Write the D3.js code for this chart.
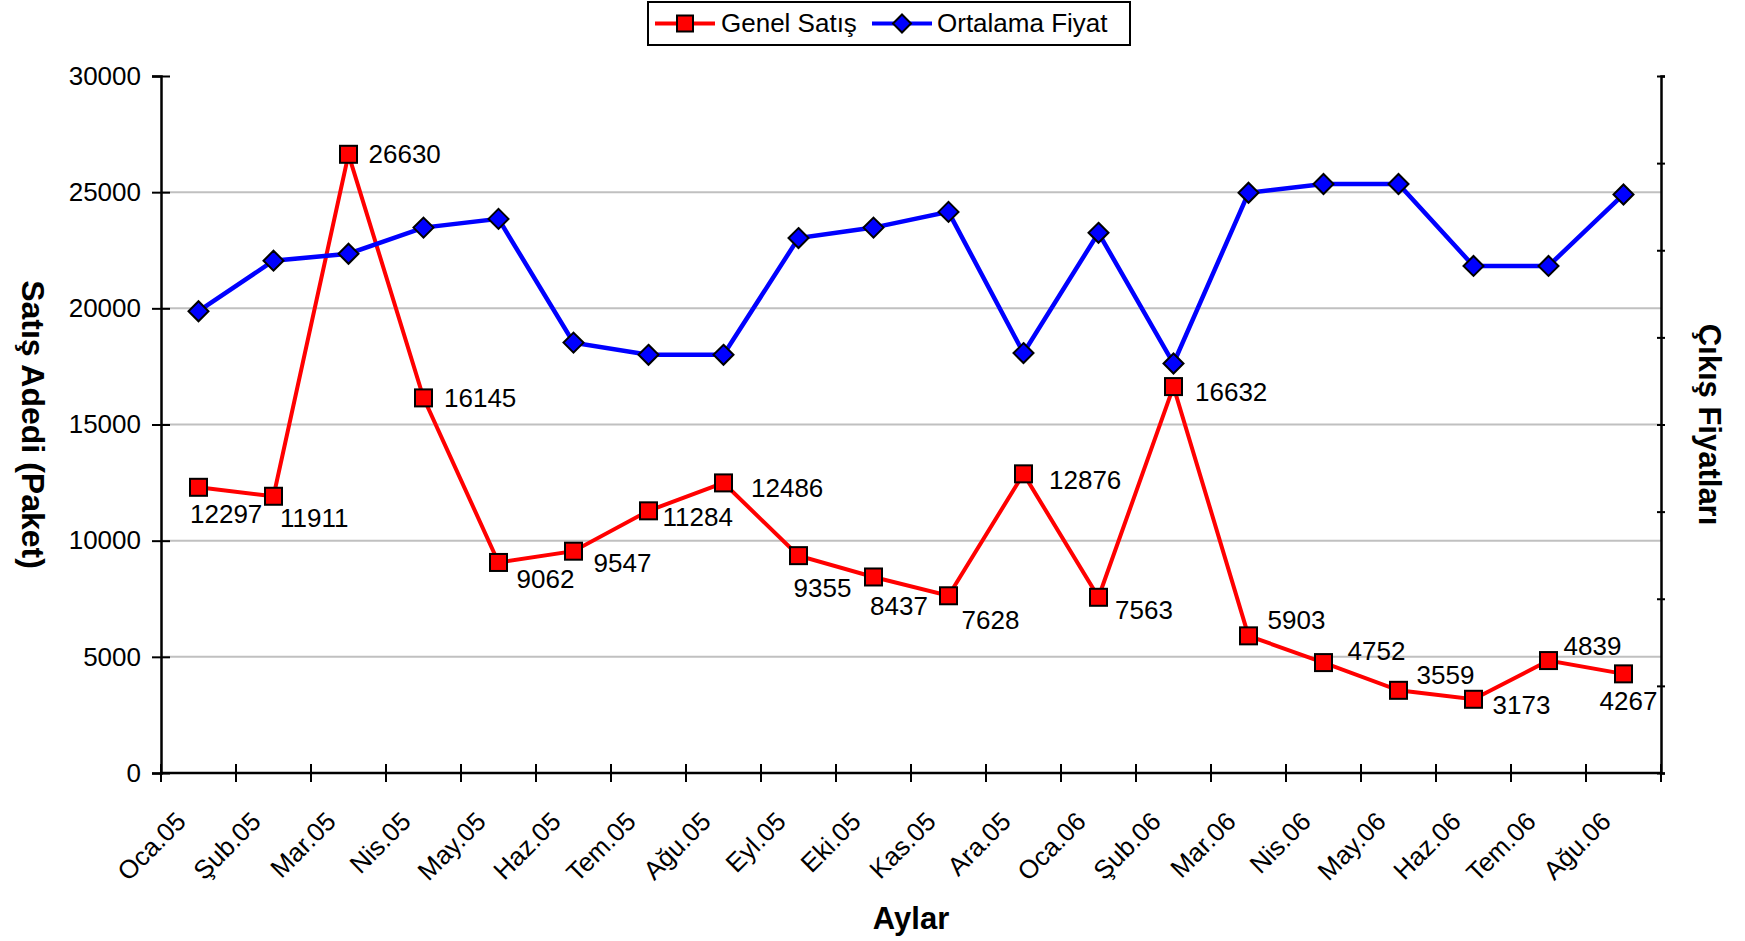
<!DOCTYPE html>
<html>
<head>
<meta charset="utf-8">
<script src="https://cdn.jsdelivr.net/npm/d3@7"></script>
<style>
  html, body { margin: 0; padding: 0; background: #fff; }
  svg { display: block; font-family: "Liberation Sans", Arial, sans-serif; }
</style>
</head>
<body>
<svg id="chart" width="1745" height="941"></svg>
<script>
// ---- data ----
const months = ["Oca.05","Şub.05","Mar.05","Nis.05","May.05","Haz.05","Tem.05","Ağu.05","Eyl.05","Eki.05","Kas.05","Ara.05",
                "Oca.06","Şub.06","Mar.06","Nis.06","May.06","Haz.06","Tem.06","Ağu.06"];
const genelSatis = [12297, 11911, 26630, 16145, 9062, 9547, 11284, 12486, 9355, 8437, 7628, 12876,
                    7563, 16632, 5903, 4752, 3559, 3173, 4839, 4267];
const ortalamaFiyat = [2.65, 2.94, 2.98, 3.13, 3.18, 2.47, 2.40, 2.40, 3.07, 3.13, 3.22, 2.41,
                       3.10, 2.35, 3.33, 3.38, 3.38, 2.91, 2.91, 3.32];
const leftTicks = [0, 5000, 10000, 15000, 20000, 25000, 30000];
const rightTicks = [0, 0.5, 1, 1.5, 2, 2.5, 3, 3.5, 4];
const seriesNames = ["Genel Satış", "Ortalama Fiyat"];
// label placement offsets (text start dx, baseline dy) relative to each point
const labelOffsets = [[-8.5,36],[6.5,30.5],[20,9],[20.5,9],[18,26],[20,21],[14,15],[27.5,14],[-5,41],[-3.5,38],
                      [13,33],[25.5,15.5],[16.5,22],[21.5,14],[19,-7],[24,-3],[18,-6],[19,15],[15,-6],[-24,36]];

// ---- layout ----
const L = 161, R = 1661, T = 76, B = 773;
const svg = d3.select("#chart");
const FS = 26;

const x = d3.scaleBand().domain(months).range([L, R]).padding(0);
const cx = d => x(d) + x.bandwidth() / 2;
const yL = d3.scaleLinear().domain([0, 30000]).range([B, T]);
const yR = d3.scaleLinear().domain([0, 4]).range([B, T]);

// gridlines
svg.append("g").selectAll("line").data(leftTicks.filter(t => t > 0 && t < 30000)).join("line")
  .attr("x1", L).attr("x2", R).attr("y1", d => yL(d)).attr("y2", d => yL(d))
  .attr("stroke", "#c0c0c0").attr("stroke-width", 2);

// left axis
const gL = svg.append("g").attr("transform", `translate(${L},0)`)
  .call(d3.axisLeft(yL).tickValues(leftTicks).tickSize(9).tickPadding(11).tickFormat(d3.format("d")));
gL.select(".domain").attr("stroke", "#000").attr("stroke-width", 2.5);
gL.selectAll(".tick line").attr("stroke", "#000").attr("stroke-width", 2).attr("x2", 18).attr("transform", "translate(-9,0)");
gL.selectAll(".tick text").attr("font-size", FS).attr("fill", "#000").attr("font-family", "Liberation Sans, Arial, sans-serif");

// right axis
const gR = svg.append("g").attr("transform", `translate(${R},0)`)
  .call(d3.axisRight(yR).tickValues(rightTicks).tickSize(4).tickFormat(""));
gR.select(".domain").attr("stroke", "#000").attr("stroke-width", 2.5);
gR.selectAll(".tick line").attr("stroke", "#000").attr("stroke-width", 2).attr("x2", 8).attr("transform", "translate(-4,0)");

// bottom axis
const xTickPos = months.map(m => x(m)).concat([R]);
const gB = svg.append("g").attr("transform", `translate(0,${B})`);
gB.append("line").attr("x1", L).attr("x2", R).attr("y1", 0).attr("y2", 0).attr("stroke", "#000").attr("stroke-width", 2.5);
gB.selectAll("line.tk").data(xTickPos).join("line").attr("class", "tk")
  .attr("x1", d => d).attr("x2", d => d).attr("y1", -9).attr("y2", 9)
  .attr("stroke", "#000").attr("stroke-width", 2);
gB.selectAll("text").data(months).join("text")
  .attr("transform", d => `translate(${cx(d) - 11},${50}) rotate(-45)`)
  .attr("text-anchor", "end").attr("font-size", FS).attr("fill", "#000")
  .text(d => d);

// axis titles
svg.append("text").attr("x", (L + R) / 2).attr("y", 929).attr("text-anchor", "middle")
  .attr("font-weight", "bold").attr("font-size", 31).text("Aylar");
svg.append("text").attr("transform", `translate(22,${(T + B) / 2}) rotate(90)`).attr("text-anchor", "middle")
  .attr("font-weight", "bold").attr("font-size", 32).text("Satış Adedi (Paket)");
svg.append("text").attr("transform", `translate(1699,${(T + B) / 2}) rotate(90)`).attr("text-anchor", "middle")
  .attr("font-weight", "bold").attr("font-size", 31).text("Çıkış Fiyatları");

// red series
const redLine = d3.line().x((d, i) => cx(months[i])).y(d => yL(d));
svg.append("path").datum(genelSatis).attr("d", redLine)
  .attr("fill", "none").attr("stroke", "#ff0000").attr("stroke-width", 4).attr("stroke-linejoin", "miter");
svg.append("g").selectAll("rect").data(genelSatis).join("rect")
  .attr("x", (d, i) => cx(months[i]) - 8.5).attr("y", d => yL(d) - 8.5)
  .attr("width", 17).attr("height", 17)
  .attr("fill", "#ff0000").attr("stroke", "#000").attr("stroke-width", 2);

// blue series
const blueLine = d3.line().x((d, i) => cx(months[i])).y(d => yR(d));
svg.append("path").datum(ortalamaFiyat).attr("d", blueLine)
  .attr("fill", "none").attr("stroke", "#0000ff").attr("stroke-width", 4.5).attr("stroke-linejoin", "miter");
const diamond = s => `M0,${-s}L${s},0L0,${s}L${-s},0Z`;
svg.append("g").selectAll("path").data(ortalamaFiyat).join("path")
  .attr("transform", (d, i) => `translate(${cx(months[i])},${yR(d)})`)
  .attr("d", diamond(10))
  .attr("fill", "#0000ff").attr("stroke", "#000").attr("stroke-width", 2);

// data labels
svg.append("g").selectAll("text").data(genelSatis).join("text")
  .attr("x", (d, i) => cx(months[i]) + labelOffsets[i][0])
  .attr("y", (d, i) => yL(d) + labelOffsets[i][1])
  .attr("font-size", FS).attr("fill", "#000")
  .text(d => d);

// legend
const lg = svg.append("g");
lg.append("rect").attr("x", 648).attr("y", 2).attr("width", 482).attr("height", 43)
  .attr("fill", "#fff").attr("stroke", "#000").attr("stroke-width", 2);
lg.append("line").attr("x1", 655).attr("x2", 715).attr("y1", 23.5).attr("y2", 23.5)
  .attr("stroke", "#ff0000").attr("stroke-width", 4);
lg.append("rect").attr("x", 685 - 8).attr("y", 23.5 - 8).attr("width", 16).attr("height", 16)
  .attr("fill", "#ff0000").attr("stroke", "#000").attr("stroke-width", 2);
lg.append("text").attr("x", 721).attr("y", 32).attr("font-size", FS).text(seriesNames[0]);
lg.append("line").attr("x1", 872).attr("x2", 932).attr("y1", 23.5).attr("y2", 23.5)
  .attr("stroke", "#0000ff").attr("stroke-width", 4);
lg.append("path").attr("transform", "translate(902,23.5)").attr("d", diamond(9))
  .attr("fill", "#0000ff").attr("stroke", "#000").attr("stroke-width", 2);
lg.append("text").attr("x", 937).attr("y", 32).attr("font-size", FS).text(seriesNames[1]);
</script>
</body>
</html>
